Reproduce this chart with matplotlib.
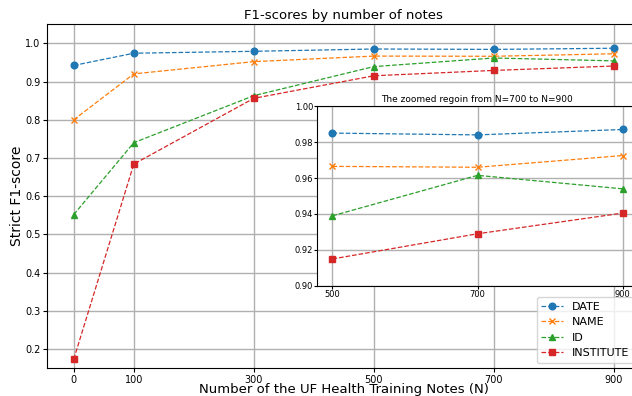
import matplotlib
matplotlib.use("Agg")
import matplotlib.pyplot as plt

notes = [0, 100, 300, 500, 700, 900]
date_f1 = [0.942, 0.974, 0.979, 0.985, 0.984, 0.987]
name_f1 = [0.800, 0.920, 0.952, 0.9665, 0.966, 0.9725]
id_f1 = [0.552, 0.740, 0.863, 0.939, 0.9615, 0.954]
inst_f1 = [0.174, 0.684, 0.856, 0.915, 0.929, 0.9405]

series = [("DATE", date_f1, "o"), ("NAME", name_f1, "x"),
          ("ID", id_f1, "^"), ("INSTITUTE", inst_f1, "s")]

fig = plt.figure(figsize=(6.32, 3.96), dpi=100)
ax = fig.add_axes([0.074, 0.07, 0.940, 0.869])
for lbl, vals, mk in series:
    ax.plot(notes, vals, linestyle="--", marker=mk, linewidth=0.9, markersize=4.8, label=lbl)
ax.set_xlim(-45, 945)
ax.set_ylim(0.15, 1.05)
ax.set_xticks(notes)
ax.tick_params(labelsize=7, length=3, pad=1.5)
ax.grid(True, color="#b0b0b0", linewidth=1)
ax.set_title("F1-scores by number of notes", fontsize=9.5, pad=4)
ax.set_xlabel("Number of the UF Health Training Notes (N)", fontsize=9.5, labelpad=-1)
ax.set_ylabel("Strict F1-score", fontsize=10, labelpad=1)

# zoomed inset
ins = fig.add_axes([0.502, 0.278, 0.506, 0.454])
for lbl, vals, mk in series:
    ins.plot(notes[3:], vals[3:], linestyle="--", marker=mk, linewidth=0.9, markersize=4.8)
ins.set_xlim(479, 920)
ins.set_ylim(0.90, 1.00)
ins.set_xticks(notes[3:])
ins.tick_params(labelsize=6, length=2, pad=1)
ins.grid(True, color="#b0b0b0", linewidth=1)
ins.set_title("The zoomed regoin from N=700 to N=900", fontsize=6.5, pad=3)

h, l = ax.get_legend_handles_labels()
fig.legend(h, l, loc="lower right", bbox_to_anchor=(1.012, 0.07), fontsize=8)

fig.savefig("out.png", dpi=100)
